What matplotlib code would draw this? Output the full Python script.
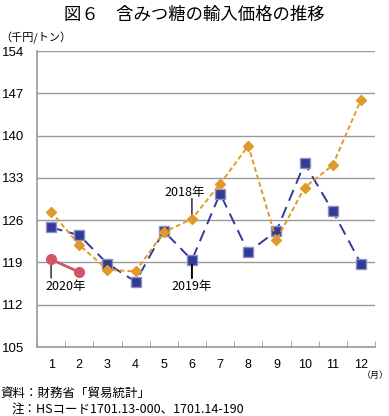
import matplotlib
matplotlib.use("Agg")
import matplotlib.pyplot as plt

plt.rcParams['font.family'] = ['Noto Sans CJK JP', 'DejaVu Sans']

months = list(range(1, 13))
month_labels = [str(m) for m in months]
y2018 = [127.4, 121.9, 117.8, 117.5, 124.0, 126.2, 132.0, 138.3, 122.7, 131.4, 135.1, 145.9]
y2019 = [124.8, 123.5, 118.8, 115.8, 124.2, 119.4, 130.4, 120.7, 124.2, 135.4, 127.5, 118.8]
y2020 = [119.5, 117.4]
yticks = [105, 112, 119, 126, 133, 140, 147, 154]

fig = plt.figure(figsize=(3.89, 4.16), dpi=100)
ax = fig.add_axes([37 / 389, 1 - 347 / 416, 338 / 389, 296 / 416])

ax.set_ylim(105, 154)
ax.set_xlim(0.5, 12.5)
ax.set_yticks(yticks)
ax.set_yticklabels([str(v) for v in yticks], family='Liberation Sans')
ax.set_xticks(months)
ax.set_xticklabels(month_labels, family='Liberation Sans')
ax.set_xticks([m + 0.5 for m in range(0, 13)], minor=True)
ax.tick_params(axis='x', which='major', length=0, labelsize=9, pad=9)
ax.tick_params(axis='x', which='minor', length=4, color='#999999', direction='in')
ax.tick_params(axis='y', length=0, labelsize=9.5, pad=25)
for lbl in ax.get_yticklabels():
    lbl.set_horizontalalignment('left')
ax.grid(axis='y', color='#9a9a9a', lw=1.0)
ax.set_axisbelow(True)
for s in ['top', 'right']:
    ax.spines[s].set_visible(False)
ax.spines['left'].set_color('#999999')
ax.spines['bottom'].set_color('#999999')
ax.spines['left'].set_linewidth(1.2)
ax.spines['bottom'].set_linewidth(1.2)

ax.plot(months, y2019, color='#333a96', lw=1.4, ls=(0, (6, 3.5)), marker='s', ms=7,
        mfc='#333a96', mec='#8d90c8', mew=1.0, zorder=3)
ax.plot(months, y2018, color='#e09a2a', lw=1.4, ls=(0, (2.5, 1.5)), marker='D', ms=5,
        mfc='#e09a2a', mec='#e09a2a', zorder=4)
ax.plot(months[:2], y2020, color='#d4546a', lw=2.0, marker='o', ms=7,
        mfc='#d4546a', mec='#d4546a', zorder=5)

# leader lines and labels
line_kw = dict(arrowstyle='-', color='black', shrinkA=0, shrinkB=0)
ax.annotate('', xy=(6, y2018[5] + 0.6), xytext=(6, 129.6), arrowprops=dict(lw=0.9, **line_kw))
ax.text(5.75, 130.6, '2018年', fontsize=9, ha='center', va='center')
ax.annotate('', xy=(6, y2019[5] - 0.8), xytext=(6, 116.4), arrowprops=dict(lw=1.4, **line_kw))
ax.text(6.0, 115.0, '2019年', fontsize=9, ha='center', va='center')
ax.annotate('', xy=(1, y2020[0] - 0.8), xytext=(1, 116.4), arrowprops=dict(lw=0.9, **line_kw))
ax.text(1.53, 115.0, '2020年', fontsize=9, ha='center', va='center')

fig.text(0.5, 1 - 15 / 416, '図６　含みつ糖の輸入価格の推移', ha='center', va='center',
         fontsize=12.5)
fig.text(0 / 389, 1 - 38 / 416, '（千円/トン）', ha='left', va='center', fontsize=8)
fig.text(389 / 389, 1 - 375 / 416, '（月）', ha='right', va='center', fontsize=6.5)
fig.text(0 / 389, 1 - 393 / 416, '資料：財務省「貿易統計」', ha='left', va='center', fontsize=9)
fig.text(12 / 389, 1 - 409 / 416, '注：HSコード1701.13-000、1701.14-190', ha='left',
         va='center', fontsize=9)

fig.savefig('out.png', dpi=100)
